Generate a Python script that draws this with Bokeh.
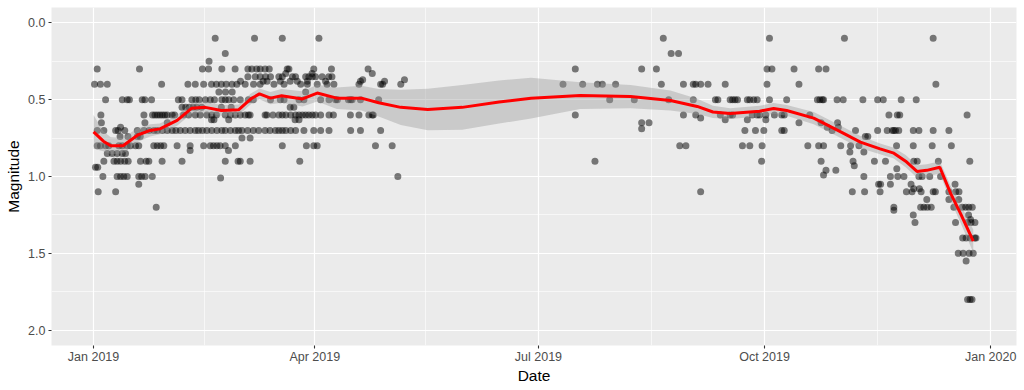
import pandas as pd
from bokeh.plotting import figure
from bokeh.models import Range1d, FixedTicker, DatetimeTickFormatter, PrintfTickFormatter, ColumnDataSource
from bokeh.embed import file_html
from bokeh.resources import INLINE

START = pd.Timestamp("2019-01-01")

# Observations: (magnitude, [days after 2019-01-01]) grouped by period
jan_obs = [
    (0.3, [1.5, 18.7]),
    (0.4, [0.4, 2.8, 5.6, 27.7]),
    (0.5, [4.9, 11.7, 13.7, 14.6, 19.8, 20.9, 23.6, 34.5]),
    (0.6, [3.0, 20.5, 24.0, 25.0, 26.0, 27.0, 28.0, 29.0, 30.0, 32.0, 33.0]),
    (0.65, [3.2, 20.9, 30.0]),
    (0.68, [11.0]),
    (0.7, [1.5, 4.2, 9.0, 10.0, 12.7, 17.8, 20.5, 22.6, 24.6, 26.0, 28.0, 30.0, 32.0, 33.5]),
    (0.74, [10.8, 14.0, 17.8, 19.0]),
    (0.8, [1.5, 2.8, 4.9, 6.2, 10.3, 11.7, 13.7, 15.0, 17.1, 18.4, 24.5, 25.9, 27.3, 28.6, 34.0]),
    (0.85, [5.6, 7.6, 9.6, 11.7, 13.0]),
    (0.9, [4.2, 8.3, 9.6, 11.0, 12.7, 14.1, 19.1, 21.4, 22.5, 27.9]),
    (0.94, [0.8, 1.7]),
    (1.0, [3.8, 9.6, 11.0, 12.3, 13.7, 18.4, 19.6, 21.0, 23.9]),
    (1.05, [18.4]),
    (1.1, [1.9, 9.0]),
    (1.2, [25.5]),
]

feb_apr_obs = [
    (0.1, [49.5, 65.5, 76.8, 91.7]),
    (0.2, [53.6]),
    (0.25, [47.0]),
    (0.3, [44.3, 46.8, 52.2, 57.6, 62.8, 64.4, 66.4, 67.8, 69.8, 71.5, 78.8, 79.5, 89.6, 96.8]),
    (0.33, [78.2, 88.9]),
    (0.35, [62.8, 65.8, 67.8, 70.0, 72.0, 75.4, 76.8, 80.9, 82.2, 86.3, 87.6, 89.0, 90.3, 93.0, 95.7, 97.0]),
    (0.38, [59.8, 69.0, 70.6, 76.0, 80.0, 82.9, 87.0, 94.4]),
    (0.4, [38.4, 41.4, 44.8, 48.0, 50.0, 52.0, 54.0, 56.3, 58.3, 61.7, 65.1, 67.8, 73.4, 77.5, 84.3, 87.0, 91.0, 95.0, 97.8]),
    (0.45, [51.0, 53.7, 56.4, 86.3]),
    (0.5, [36.0, 40.0, 41.6, 43.0, 45.5, 47.5, 49.2, 52.2, 53.6, 55.0, 57.0, 59.7, 63.0, 65.0, 72.0, 76.0, 77.5, 83.6, 85.6, 92.4, 95.8]),
    (0.55, [36.0, 37.5, 39.0, 40.5, 42.0, 44.0, 52.0, 56.0, 80.0, 81.5]),
    (0.6, [36.6, 38.7, 41.4, 43.4, 46.1, 48.1, 50.0, 53.6, 55.7, 57.7, 59.7, 61.7, 63.0, 63.7, 69.8, 70.5, 73.0,
           75.4, 76.8, 78.2, 80.2, 82.2, 83.6, 85.0, 86.3, 87.6, 89.0, 90.3, 92.4, 95.8]),
    (0.63, [48.0, 49.0, 55.0, 82.0, 83.6]),
    (0.7, [35.3, 37.3, 39.3, 41.4, 42.7, 44.3, 46.1, 48.1, 50.2, 52.2, 53.6, 55.7, 57.7, 59.0, 60.4, 62.7, 65.0,
           67.2, 69.8, 71.8, 74.0, 75.4, 76.8, 78.2, 80.2, 82.2, 85.6, 89.6, 92.4, 95.8]),
    (0.75, [60.4, 63.7]),
    (0.8, [39.3, 44.8, 47.5, 48.8, 50.2, 51.5, 53.6, 57.7, 76.8, 86.6, 89.6, 91.0]),
    (0.83, [39.3, 54.9]),
    (0.9, [36.0, 53.6, 58.8, 59.7, 63.7, 83.9]),
    (1.01, [51.7]),
]

apr_may_obs = [
    (0.3, [111.7]),
    (0.33, [113.4]),
    (0.37, [109.5, 126.5]),
    (0.38, [108.6, 118.4]),
    (0.4, [108.0, 116.8, 117.6, 125.0]),
    (0.5, [98.5, 99.2, 103.7, 104.6, 105.2, 108.6, 116.0]),
    (0.6, [97.6, 104.5, 108.0, 112.0, 113.4, 113.8]),
    (0.7, [104.6, 108.6, 116.8]),
    (0.8, [114.7, 121.5]),
    (1.0, [123.8]),
]

summer_obs = [
    (0.1, [231.8]),
    (0.2, [235.0, 238.0]),
    (0.3, [196.0, 223.0, 229.0]),
    (0.4, [191.0, 199.0, 205.0, 207.0, 212.4, 231.0, 240.0, 244.0, 245.0, 247.0, 250.0, 257.0]),
    (0.5, [210.0, 220.0, 234.0, 244.0, 253.0, 254.0, 259.0]),
    (0.6, [196.0, 240.0, 245.0]),
    (0.62, [247.0]),
    (0.63, [257.0]),
    (0.65, [223.0, 226.0]),
    (0.69, [223.0]),
    (0.8, [238.5, 241.0]),
    (0.9, [204.0]),
    (1.1, [247.0]),
]

autumn_obs = [
    (0.1, [275.0, 305.5]),
    (0.3, [274.0, 276.0, 285.0, 295.0, 298.0]),
    (0.4, [274.0, 287.0]),
    (0.5, [260.0, 261.0, 262.0, 266.0, 267.0, 268.6, 270.0, 275.0, 282.0, 294.5, 295.5, 296.5, 297.0, 302.5, 305.0, 313.0, 319.0]),
    (0.6, [255.0, 259.0, 260.0, 268.0, 270.0, 271.0, 273.5, 277.0, 280.0, 281.0, 291.4]),
    (0.63, [266.0, 273.5]),
    (0.65, [287.0, 296.0, 302.7]),
    (0.68, [298.5, 303.0]),
    (0.7, [265.0, 269.3, 272.7, 280.0, 281.0, 300.5, 310.0, 319.0]),
    (0.74, [314.0, 315.0]),
    (0.8, [264.0, 267.0, 272.0, 290.6, 295.0, 297.0, 304.0, 308.0, 311.4]),
    (0.84, [307.7, 313.4]),
    (0.9, [271.8, 296.0, 309.0, 317.7]),
    (0.93, [309.5]),
    (0.96, [298.0, 302.0]),
    (0.99, [297.0]),
    (1.0, [313.4]),
    (1.05, [319.4]),
    (1.1, [308.7, 313.7]),
]

december_obs = [
    (0.1, [341.6]),
    (0.4, [342.7]),
    (0.5, [321.3, 328.6, 334.7]),
    (0.6, [323.6, 327.0, 328.0, 355.4]),
    (0.7, [322.9, 325.0, 325.6, 326.3, 327.6, 333.5, 335.8, 341.6, 348.0]),
    (0.8, [326.7, 333.5, 341.2, 349.0]),
    (0.9, [322.2, 333.7, 335.1, 343.7, 356.5]),
    (0.95, [326.8]),
    (1.0, [324.2, 327.2, 329.7, 335.8, 337.1, 340.2, 344.6]),
    (1.05, [320.2, 324.2, 332.6, 350.5]),
    (1.08, [333.7, 336.0]),
    (1.1, [320.0, 330.7, 333.0, 336.7, 341.6, 342.5, 348.0, 350.8, 352.1]),
    (1.15, [339.0, 348.0, 352.0]),
    (1.2, [325.6, 336.5, 337.8, 339.2, 340.8, 350.0, 353.4, 354.8, 356.1, 357.5]),
    (1.22, [325.6]),
    (1.25, [333.5, 356.0]),
    (1.28, [356.8]),
    (1.3, [334.2, 350.7, 355.5, 357.0, 358.6]),
    (1.4, [353.6, 355.0, 356.7, 358.5, 359.0]),
    (1.5, [351.8, 353.8, 356.2, 357.9]),
    (1.55, [355.0]),
    (1.8, [355.6, 356.6, 357.4]),
]

# LOESS smooth: day, fitted magnitude, half-width of CI band
smooth_day = [0, 4, 7, 12, 18, 23, 27, 34, 40, 45.5, 52, 59, 64, 67.5, 72, 76.5, 85, 91, 99, 109, 116, 125,
              136, 150, 165, 178, 198, 218.5, 234.7, 245.6, 252, 259, 271, 276.7, 282, 293, 304, 312, 320,
              325.6, 330.4, 335, 339, 344.3, 348.7, 352.7, 357.9]
smooth_mag = [0.71, 0.77, 0.80, 0.80, 0.73, 0.70, 0.69, 0.635, 0.555, 0.55, 0.57, 0.566, 0.495, 0.462, 0.49,
              0.475, 0.495, 0.457, 0.49, 0.49, 0.52, 0.55, 0.564, 0.55, 0.515, 0.49, 0.473, 0.48, 0.505, 0.544,
              0.58, 0.59, 0.575, 0.557, 0.57, 0.62, 0.71, 0.776, 0.82, 0.848, 0.90, 0.967, 0.96, 0.94, 1.11,
              1.24, 1.42]
smooth_hw = [0.11, 0.065, 0.055, 0.05, 0.045, 0.04, 0.035, 0.035, 0.035, 0.035, 0.035, 0.035, 0.035, 0.035,
             0.04, 0.045, 0.05, 0.055, 0.07, 0.08, 0.09, 0.115, 0.135, 0.145, 0.14, 0.133, 0.087, 0.075, 0.065,
             0.05, 0.04, 0.035, 0.035, 0.035, 0.035, 0.04, 0.04, 0.04, 0.035, 0.035, 0.04, 0.04, 0.04, 0.04,
             0.05, 0.06, 0.075]

x_tick_dates = ["2019-01-01", "2019-04-01", "2019-07-01", "2019-10-01", "2020-01-01"]
x_minor_dates = ["2019-02-15", "2019-05-16", "2019-08-16", "2019-11-16"]
y_ticks = [0.0, 0.5, 1.0, 1.5, 2.0]
y_minor = [0.25, 0.75, 1.25, 1.75]


def flatten(groups):
    d, m = [], []
    for mag, days in groups:
        for dd in days:
            d.append(dd)
            m.append(mag)
    return d, m


all_days, all_mags = [], []
for g in (jan_obs, feb_apr_obs, apr_may_obs, summer_obs, autumn_obs, december_obs):
    d, m = flatten(g)
    all_days += d
    all_mags += m

pts = ColumnDataSource(dict(
    date=START + pd.to_timedelta(all_days, unit="D"),
    mag=all_mags,
))
sm_dates = START + pd.to_timedelta(smooth_day, unit="D")
lower = [m - h for m, h in zip(smooth_mag, smooth_hw)]
upper = [m + h for m, h in zip(smooth_mag, smooth_hw)]


def ms(s):
    return pd.Timestamp(s).value / 1e6


x0 = START - pd.Timedelta(days=17.1)
x1 = START + pd.Timedelta(days=375.5)

p = figure(width=1024, height=390, x_axis_type="datetime", output_backend="svg", toolbar_location=None,
           x_range=Range1d(x0, x1), y_range=Range1d(2.1, -0.1),
           min_border_left=51, min_border_right=8, min_border_top=7, min_border_bottom=45)
p.background_fill_color = "#EBEBEB"
p.border_fill_color = "white"
p.outline_line_color = None

p.scatter(x="date", y="mag", source=pts, size=7, fill_color="black", fill_alpha=0.5, line_color=None)
p.varea(x=sm_dates, y1=lower, y2=upper, fill_color="#999999", fill_alpha=0.4)
p.line(x=sm_dates, y=smooth_mag, line_color="#FF0000", line_width=3)

p.xaxis.ticker = FixedTicker(ticks=[ms(s) for s in x_tick_dates], minor_ticks=[ms(s) for s in x_minor_dates])
fmt = "%b %Y"
p.xaxis.formatter = DatetimeTickFormatter(microseconds=fmt, milliseconds=fmt, seconds=fmt, minsec=fmt,
                                          minutes=fmt, hourmin=fmt, hours=fmt, days=fmt, months=fmt, years=fmt)
p.yaxis.ticker = FixedTicker(ticks=y_ticks, minor_ticks=y_minor)
p.yaxis.formatter = PrintfTickFormatter(format="%.1f")

p.xaxis.axis_label = "Date"
p.yaxis.axis_label = "Magnitude"

for ax in (p.xaxis, p.yaxis):
    ax.axis_line_color = None
    ax.major_tick_line_color = "#333333"
    ax.major_tick_line_width = 1.1
    ax.major_tick_out = 3
    ax.major_tick_in = 0
    ax.minor_tick_line_color = None
    ax.major_label_text_color = "#4D4D4D"
    ax.major_label_text_font = "Liberation Sans"
    ax.major_label_text_font_size = "12.5px"
    ax.axis_label_text_font = "Liberation Sans"
    ax.axis_label_text_font_size = "15.5px"
    ax.axis_label_text_font_style = "normal"
    ax.axis_label_text_color = "black"

p.xaxis.major_label_standoff = 0
p.xaxis.axis_label_standoff = 0
p.yaxis.major_label_standoff = 2
p.yaxis.axis_label_standoff = 3

for g in (p.xgrid, p.ygrid):
    g.grid_line_color = "white"
    g.grid_line_width = 1.2
    g.minor_grid_line_color = "white"
    g.minor_grid_line_width = 0.6

open("out.html", "w").write(file_html(p, INLINE))
